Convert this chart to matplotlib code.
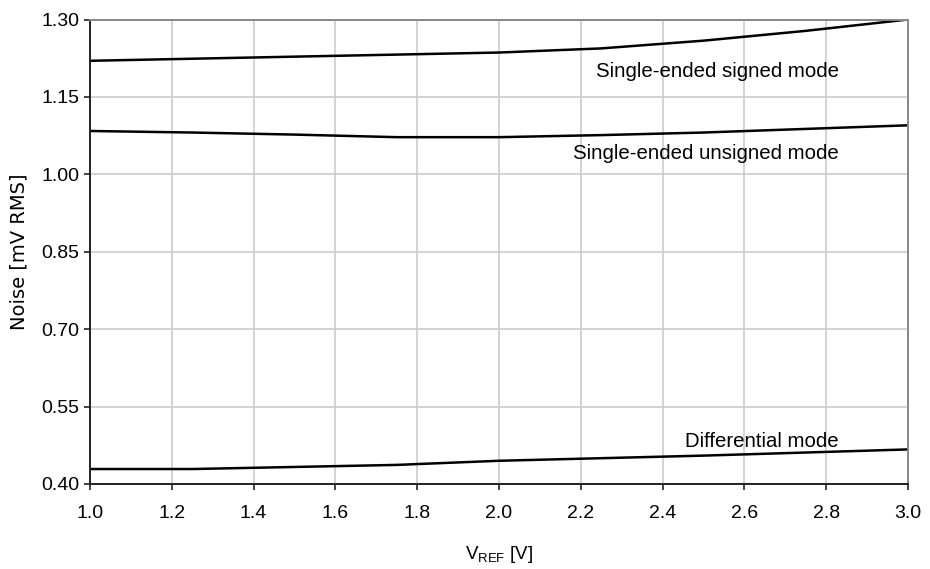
import matplotlib
matplotlib.use("Agg")
import matplotlib.pyplot as plt
from matplotlib import font_manager

plt.rcParams['font.family'] = ['Liberation Sans', 'DejaVu Sans']

# data
vref = [1.0, 1.25, 1.5, 1.75, 2.0, 2.25, 2.5, 2.75, 3.0]
signed = [1.220, 1.224, 1.228, 1.232, 1.236, 1.244, 1.259, 1.278, 1.300]
unsigned = [1.084, 1.081, 1.077, 1.072, 1.072, 1.076, 1.081, 1.088, 1.095]
differential = [0.429, 0.429, 0.433, 0.437, 0.445, 0.450, 0.455, 0.461, 0.467]

labels = ["Single-ended signed mode", "Single-ended unsigned mode", "Differential mode"]
label_y = [1.1886, 1.0297, 0.4723]

xticks = [1.0, 1.2, 1.4, 1.6, 1.8, 2.0, 2.2, 2.4, 2.6, 2.8, 3.0]
yticks = [0.40, 0.55, 0.70, 0.85, 1.00, 1.15, 1.30]

# narrow font for the curve labels if we have it
try:
    font_manager.findfont('Liberation Sans Narrow', fallback_to_default=False)
    narrow = ['Liberation Sans Narrow', 'DejaVu Sans']
    lab_size = 18
except ValueError:
    narrow = ['Liberation Sans', 'DejaVu Sans']
    lab_size = 14.7

fig = plt.figure(figsize=(9.3, 5.69), dpi=100)
ax = fig.add_axes([90 / 930, 1 - 484 / 569, 818 / 930, 464.5 / 569])

for ys in (signed, unsigned, differential):
    ax.plot(vref, ys, color='black', lw=1.8)

ax.set_xlim(1.0, 3.0)
ax.set_ylim(0.40, 1.30)
ax.set_xticks(xticks)
ax.set_yticks(yticks)
ax.set_xticklabels([f"{t:.1f}" for t in xticks])
ax.set_yticklabels([f"{t:.2f}" for t in yticks])
ax.tick_params(direction='out', length=4, width=1.2, labelsize=14, color='#222222')
ax.tick_params(axis='x', pad=11)
ax.grid(True, color='#cccccc', lw=1.2)
ax.set_axisbelow(True)

for s in ('left', 'bottom'):
    ax.spines[s].set_color('#222222')
    ax.spines[s].set_linewidth(1.4)
for s in ('top', 'right'):
    ax.spines[s].set_color('#888888')
    ax.spines[s].set_linewidth(1.4)

for txt, y in zip(labels, label_y):
    ax.text(2.831, y, txt, ha='right', va='baseline', fontsize=lab_size, family=narrow)

ax.set_ylabel("Noise [mV RMS]", fontsize=14, family=['DejaVu Sans'], labelpad=9)
ax.set_xlabel(r"V$_{\mathregular{REF}}$ [V]", fontsize=13.5, labelpad=16)

fig.savefig("out.png", dpi=100)
